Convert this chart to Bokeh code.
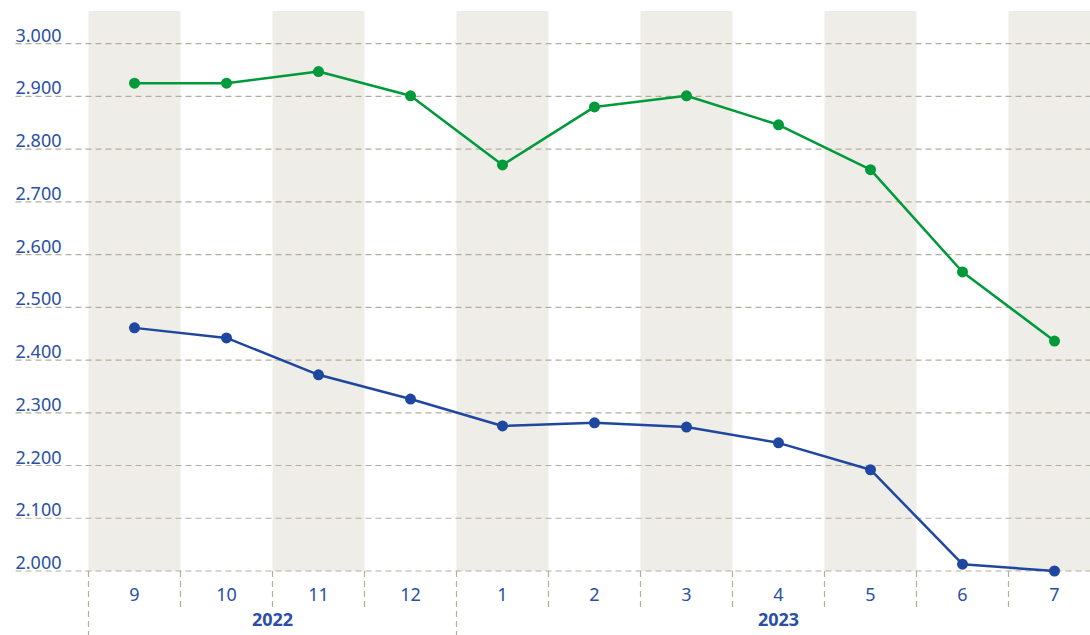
from bokeh.plotting import figure
from bokeh.models import Range1d
from bokeh.core.properties import value
from bokeh.embed import file_html
from bokeh.resources import INLINE

months = ["9", "10", "11", "12", "1", "2", "3", "4", "5", "6", "7"]
years = ["2022", "2023"]
year_spans = [(0, 3), (4, 10)]  # first and last month index of each year
green_vals = [2925, 2925, 2947, 2901, 2770, 2880, 2901, 2846, 2761, 2567, 2436]
blue_vals = [2461, 2442, 2372, 2326, 2275, 2281, 2273, 2243, 2192, 2013, 2000]
y_ticks = [2000, 2100, 2200, 2300, 2400, 2500, 2600, 2700, 2800, 2900, 3000]
y_labels = ["2.000", "2.100", "2.200", "2.300", "2.400", "2.500", "2.600", "2.700", "2.800", "2.900", "3.000"]

GREEN = "#009A3A"
BLUE = "#1F47A0"
TEXT = "#2A50A6"
BAND = "#EEEDE8"
GRID = "#B3AE9C"
FONT = "Noto Sans"

W, H = 1090, 635
PX_X = 92.0          # pixels per category
PX_Y = 0.5274        # pixels per unit
X0_PX = 134.0        # pixel of first category center
Y2000_PX = 570.5     # pixel of value 2000
x_lo = (0 - X0_PX) / PX_X
x_hi = (W - X0_PX) / PX_X
y_hi = 2000 + Y2000_PX / PX_Y
y_lo = 2000 - (H - Y2000_PX) / PX_Y

p = figure(width=W, height=H, output_backend="svg", toolbar_location=None,
           x_axis_type=None, y_axis_type=None, min_border=0,
           x_range=Range1d(x_lo, x_hi), y_range=Range1d(y_lo, y_hi))
p.outline_line_color = None
p.background_fill_color = "white"
p.xgrid.visible = False
p.ygrid.visible = False

n = len(months)
xs = list(range(n))
band_top = 2000 + 560 / PX_Y

# alternating bands
bi = [i for i in xs if i % 2 == 0]
p.quad(left=[i - 0.5 for i in bi], right=[i + 0.5 for i in bi],
       bottom=[y_ticks[0]] * len(bi), top=[band_top] * len(bi),
       fill_color=BAND, line_color=None)

# horizontal dashed gridlines
gx0 = x_lo + 15 / PX_X
p.segment(x0=[gx0] * len(y_ticks), x1=[x_hi] * len(y_ticks), y0=y_ticks, y1=y_ticks,
          line_color=GRID, line_width=1.2, line_dash="6 4")

# vertical separators under the axis
short_bottom = 2000 - 37 / PX_Y
year_starts = [s for s, e in year_spans]
sep_x = [i - 0.5 for i in xs]
sep_bottom = [y_lo if i in year_starts else short_bottom for i in xs]
p.segment(x0=sep_x, x1=sep_x, y0=[y_ticks[0]] * n, y1=sep_bottom,
          line_color=GRID, line_width=1.2, line_dash="6 4")

# y tick labels
p.text(x=[gx0] * len(y_ticks), y=y_ticks, text=y_labels, text_color=TEXT,
       text_font=value(FONT), text_font_size="18px", text_align="left",
       text_baseline="bottom", y_offset=-2)

# month labels
p.text(x=xs, y=[2000 - 23 / PX_Y] * n, text=months, text_color=TEXT,
       text_font=value(FONT), text_font_size="18px", text_align="center",
       text_baseline="middle")

# year labels
yx = [(s - 0.5 + e + 0.5) / 2 for s, e in year_spans]
p.text(x=yx, y=[2000 - 48 / PX_Y] * len(years), text=years, text_color=TEXT,
       text_font=value(FONT), text_font_size="18px", text_font_style="bold",
       text_align="center", text_baseline="middle")

# series
p.line(xs, green_vals, line_color=GREEN, line_width=2.5)
p.scatter(xs, green_vals, size=11, fill_color=GREEN, line_color=None)
p.line(xs, blue_vals, line_color=BLUE, line_width=2.5)
p.scatter(xs, blue_vals, size=11, fill_color=BLUE, line_color=None)

open("out.html", "w").write(file_html(p, INLINE))
